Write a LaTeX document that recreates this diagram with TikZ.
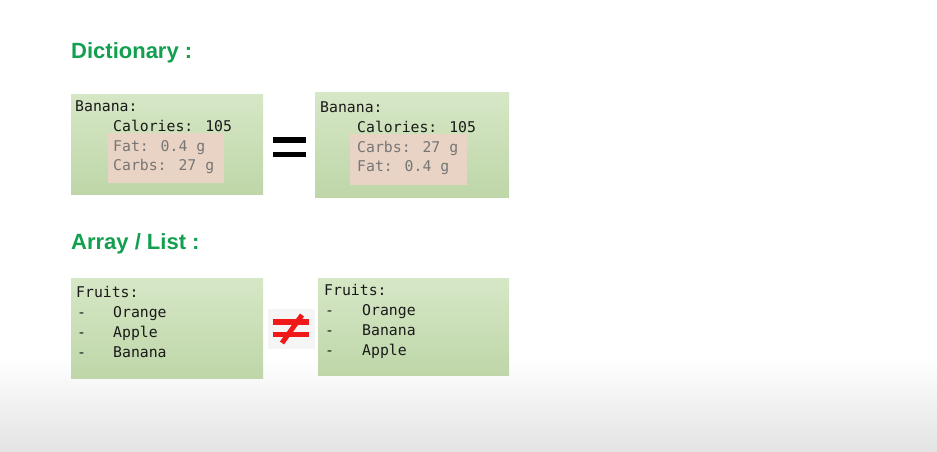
\documentclass[tikz,border=0pt]{standalone}
\usepackage{fontspec}
\setmainfont{Liberation Sans}
\newfontfamily\codefont{DejaVu Sans Mono}
\definecolor{titlegreen}{HTML}{12A050}
\definecolor{boxtop}{HTML}{D6E7C6}
\definecolor{boxbot}{HTML}{BED6A8}
\definecolor{pinkhl}{HTML}{E8D3C4}
\definecolor{graytxt}{HTML}{767676}
\definecolor{codeblk}{HTML}{1A1A1A}
\definecolor{neqred}{HTML}{F01818}
\tikzset{
  greenbox/.style={top color=boxtop, bottom color=boxbot, draw=none},
  pinkbox/.style={fill=pinkhl, draw=none},
  code/.style={anchor=west, inner sep=0pt, text height=11pt, text depth=3pt, yshift=-2pt, font=\codefont\fontsize{14.8}{16}\selectfont, text=codeblk},
  codegray/.style={code, text=graytxt},
  title/.style={anchor=west, inner sep=0pt, font=\bfseries\fontsize{22}{24}\selectfont, text=titlegreen},
}
\begin{document}
\begin{tikzpicture}[x=1pt,y=-1pt]
\useasboundingbox (0,0) rectangle (937,452);
\fill[white] (0,0) rectangle (937,452);
\shade[top color=white, bottom color=black!11] (0,358) rectangle (937,452);

% titles
\node[title] (t1) at (71,53) {Dictionary :};
\node[title] (t2) at (71,244) {Array / List :};

% dictionary boxes
\path[greenbox] (71,94) rectangle (263,194);
\path[pinkbox] (108,133) rectangle (224,183);
\node[code] (b1a) at (75,105) {Banana:};
\node[code] (b1b) at (113,125) {Calories: 105};
\node[codegray] (b1c) at (113,145) {Fat: 0.4 g};
\node[codegray] (b1d) at (113,164) {Carbs: 27 g};

\path[greenbox] (315,92) rectangle (509,197);
\path[pinkbox] (350,134) rectangle (467,185);
\node[code] (b2a) at (320,106) {Banana:};
\node[code] (b2b) at (357,126) {Calories: 105};
\node[codegray] (b2c) at (357,146) {Carbs: 27 g};
\node[codegray] (b2d) at (357,165) {Fat: 0.4 g};

% equal sign
\fill[black] (273,137) rectangle (306,142.5);
\fill[black] (273,151.5) rectangle (306,157);

% list boxes
\path[greenbox] (71,278) rectangle (263,378);
\node[code] (l1a) at (76,291) {Fruits:};
\node[code] (l1b) at (77,311) {-};
\node[code] (l1c) at (113,311) {Orange};
\node[code] (l1d) at (77,331) {-};
\node[code] (l1e) at (113,331) {Apple};
\node[code] (l1f) at (77,351) {-};
\node[code] (l1g) at (113,351) {Banana};

\path[greenbox] (318,278) rectangle (509,375);
\node[code] (l2a) at (324,289) {Fruits:};
\node[code] (l2b) at (325,309) {-};
\node[code] (l2c) at (362,309) {Orange};
\node[code] (l2d) at (325,329) {-};
\node[code] (l2e) at (362,329) {Banana};
\node[code] (l2f) at (325,349) {-};
\node[code] (l2g) at (362,349) {Apple};

% not-equal sign
\fill[black!4] (268,309) rectangle (315,349);
\fill[neqred] (273,319) rectangle (309,324.5);
\fill[neqred] (273,331.5) rectangle (309,337);
\draw[neqred, line width=5pt] (302,315) -- (282,343);
\end{tikzpicture}
\end{document}
